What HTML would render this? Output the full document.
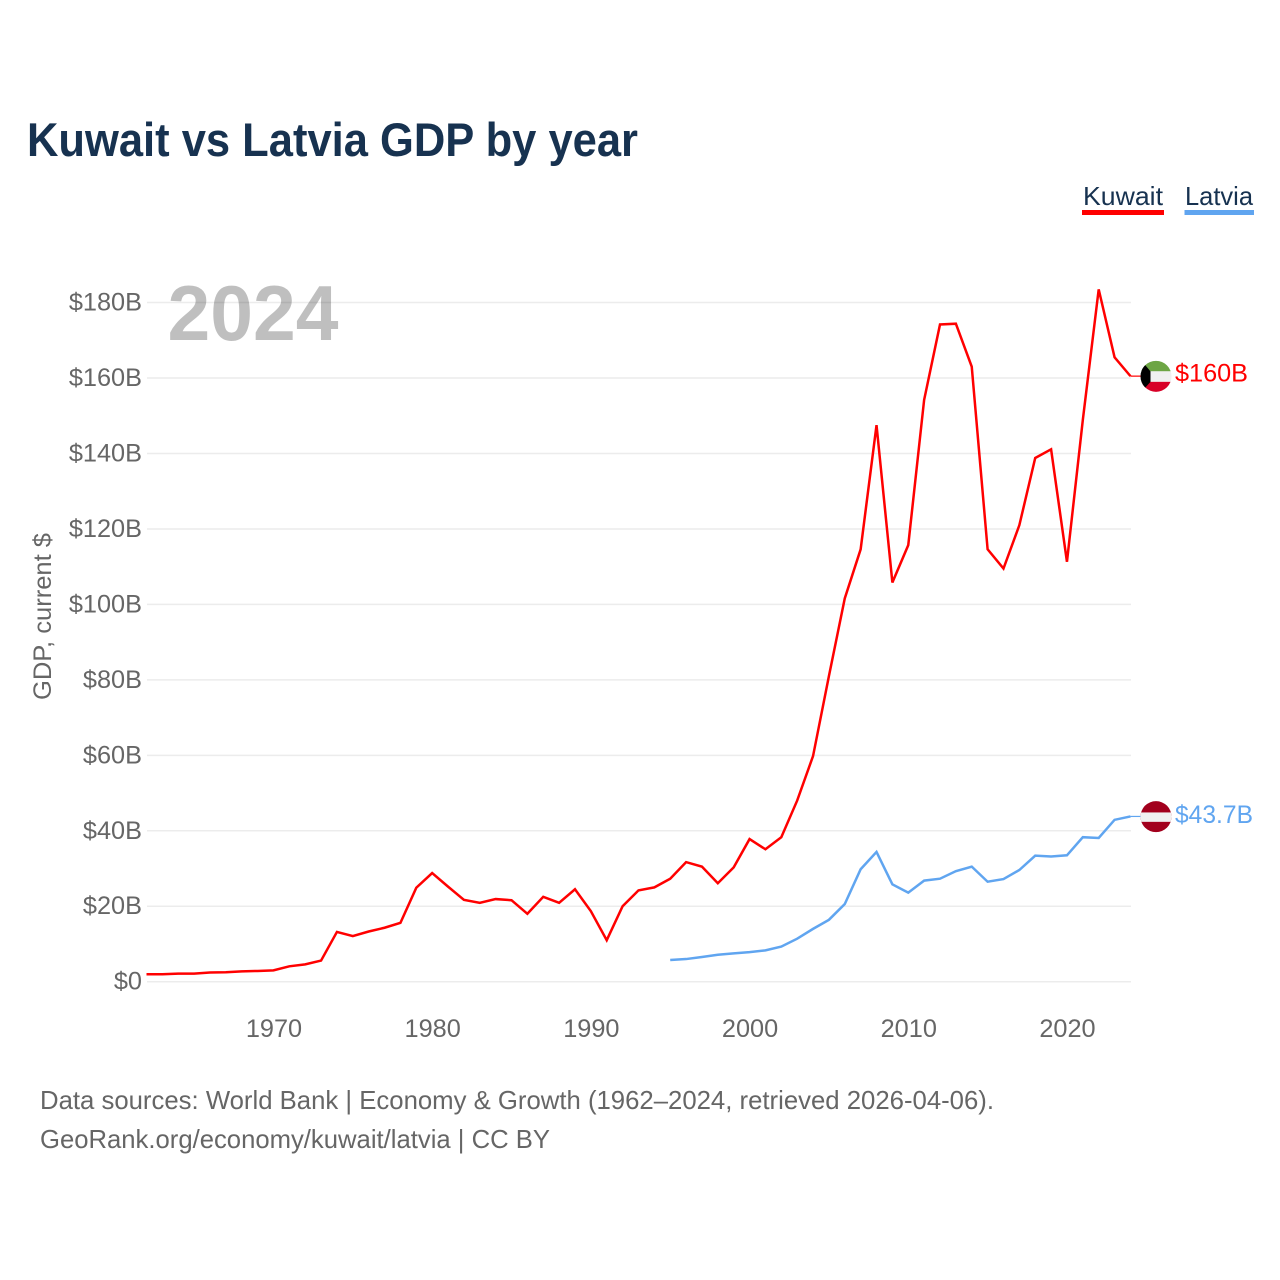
<!DOCTYPE html>
<html lang="en">
<head>
<meta charset="utf-8">
<title>Kuwait vs Latvia GDP by year</title>
<style>
html,body{margin:0;padding:0;background:#fff;}
svg{display:block;font-family:"Liberation Sans",sans-serif;}
</style>
</head>
<body>
<svg id="chart" xmlns="http://www.w3.org/2000/svg" width="1280" height="1280" viewBox="0 0 1280 1280">
  <defs>
    <clipPath id="flag-clip-kuwait"><circle cx="0" cy="0" r="15.5"></circle></clipPath>
    <clipPath id="flag-clip-latvia"><circle cx="0" cy="0" r="15.5"></circle></clipPath>
  </defs>
  <rect width="1280" height="1280" fill="#fff"></rect>
  <text x="27" y="156" font-size="47" font-weight="700" fill="#173250" textLength="611" lengthAdjust="spacingAndGlyphs">Kuwait vs Latvia GDP by year</text>

  <g>
    <g>
      <text x="1083" y="205" font-size="26" fill="#173250" textLength="80" lengthAdjust="spacingAndGlyphs">Kuwait</text>
      <rect x="1082" y="210" width="82" height="5" fill="#ff0000"></rect>
    </g>
    <g>
      <text x="1185" y="205" font-size="26" fill="#173250" textLength="68" lengthAdjust="spacingAndGlyphs">Latvia</text>
      <rect x="1184.5" y="210" width="69.5" height="5" fill="#60a5f0"></rect>
    </g>
  </g>

  <g id="grid"></g>
  <g id="y-ticks"></g>
  <g id="x-ticks"></g>

  <text x="167.5" y="340" font-size="78" font-weight="700" fill="#000000" fill-opacity="0.25" textLength="171" lengthAdjust="spacingAndGlyphs">2024</text>

  <text transform="translate(51 700) rotate(-90)" x="0" y="0" font-size="25" fill="#666666" textLength="167" lengthAdjust="spacingAndGlyphs">GDP, current $</text>

  <g id="series"></g>
  <g id="end-markers"></g>

  <text x="40" y="1109" font-size="26" fill="#666666" textLength="954" lengthAdjust="spacingAndGlyphs">Data sources: World Bank | Economy &amp; Growth (1962–2024, retrieved 2026-04-06).</text>
  <text x="40" y="1148" font-size="26" fill="#666666" textLength="510" lengthAdjust="spacingAndGlyphs">GeoRank.org/economy/kuwait/latvia | CC BY</text>
</svg>

<script>
var kuwaitStartYear = 1962;
var latviaStartYear = 1995;
var kuwaitValues = [1.96,1.98,2.15,2.15,2.45,2.5,2.75,2.85,3.0,4.08,4.6,5.6,13.2,12.1,13.3,14.3,15.6,24.9,28.8,25.2,21.7,20.9,21.9,21.6,18.0,22.5,20.9,24.5,18.7,11.0,20.0,24.2,25.0,27.3,31.7,30.5,26.1,30.3,37.8,35.1,38.3,48.0,59.8,81.0,101.6,114.6,147.5,105.8,115.7,154.2,174.2,174.4,163.0,114.6,109.5,121.0,138.8,141.1,111.3,148.9,183.5,165.5,160.5];
var latviaValues = [5.75,6.0,6.55,7.15,7.5,7.85,8.3,9.3,11.4,14.0,16.4,20.6,29.8,34.4,25.8,23.6,26.8,27.3,29.3,30.5,26.5,27.2,29.6,33.4,33.2,33.5,38.3,38.1,42.9,43.8];
var yTickValues = [0,20,40,60,80,100,120,140,160,180];
var yTickLabels = ["$0","$20B","$40B","$60B","$80B","$100B","$120B","$140B","$160B","$180B"];
var xTickYears = [1970,1980,1990,2000,2010,2020];
var kuwaitEndLabel = "$160B";
var latviaEndLabel = "$43.7B";

var SVG_NS = "http://www.w3.org/2000/svg";
function xScale(year){ return 146.5 + (year - 1962) * 15.87; }
function yScale(value){ return 981.7 - value * 3.773; }
function make(tag, attrs){
  var el = document.createElementNS(SVG_NS, tag);
  for (var k in attrs) { el.setAttribute(k, attrs[k]); }
  return el;
}

var grid = document.getElementById('grid');
var yTicks = document.getElementById('y-ticks');
yTickValues.forEach(function(v, i){
  var line = make('line', {x1:147, x2:1131, y1:yScale(v), y2:yScale(v), stroke:'#ececec', 'stroke-width':1.5});
  
  
  grid.appendChild(line);
  var label = make('text', {x:142, y:yScale(v) + 8, 'text-anchor':'end', 'font-size':25.3, fill:'#666666'});
  
  
  label.textContent = yTickLabels[i];
  yTicks.appendChild(label);
});

var xTicks = document.getElementById('x-ticks');
xTickYears.forEach(function(year){
  var label = make('text', {x:xScale(year) + 0.5, y:1037, 'text-anchor':'middle', 'font-size':25.3, fill:'#666666'});
  
  
  label.textContent = String(year);
  xTicks.appendChild(label);
});

function linePoints(values, startYear){
  return values.map(function(v, i){
    return xScale(startYear + i).toFixed(2) + ',' + yScale(v).toFixed(2);
  }).join(' ');
}

var seriesGroup = document.getElementById('series');

var kuwaitLine = make('polyline', {points:linePoints(kuwaitValues, kuwaitStartYear), fill:'none', stroke:'#ff0000', 'stroke-width':2.5, 'stroke-linejoin':'miter'});


seriesGroup.appendChild(kuwaitLine);

var latviaLine = make('polyline', {points:linePoints(latviaValues, latviaStartYear), fill:'none', stroke:'#60a5f0', 'stroke-width':2.5, 'stroke-linejoin':'miter'});


seriesGroup.appendChild(latviaLine);

var kuwaitLast = kuwaitValues[kuwaitValues.length - 1];
var latviaLast = latviaValues[latviaValues.length - 1];
var endYear = kuwaitStartYear + kuwaitValues.length - 1;
var markers = document.getElementById('end-markers');

function addShape(parent, tag, attrs){
  var el = make(tag, attrs);
  parent.appendChild(el);
  return el;
}

/* Kuwait end marker */
var kuwaitConnector = make('line', {x1:xScale(endYear), x2:1141, y1:yScale(kuwaitLast), y2:yScale(kuwaitLast), stroke:'#ff0000', 'stroke-width':1.2});


markers.appendChild(kuwaitConnector);

var kuwaitFlag = make('g', {transform:'translate(1156 ' + (yScale(kuwaitLast) + 0.2) + ')', 'clip-path':'url(#flag-clip-kuwait)'});


markers.appendChild(kuwaitFlag);
addShape(kuwaitFlag, 'rect', {x:-16, y:-16, width:32, height:11, fill:'#6da544'});
addShape(kuwaitFlag, 'rect', {x:-16, y:-5, width:32, height:10.5, fill:'#f0f0f0'});
addShape(kuwaitFlag, 'rect', {x:-16, y:5.5, width:32, height:11, fill:'#d80027'});
addShape(kuwaitFlag, 'polygon', {points:'-16,-16 -11,-11.5 -5.5,-5 -5.5,5.5 -11,11.5 -16,16', fill:'#000000'});

var kuwaitValueLabel = make('text', {x:1175, y:yScale(kuwaitLast) + 5.5, 'font-size':25.3, fill:'#ff0000', textLength:73, lengthAdjust:'spacingAndGlyphs'});


kuwaitValueLabel.textContent = kuwaitEndLabel;
markers.appendChild(kuwaitValueLabel);

/* Latvia end marker */
var latviaConnector = make('line', {x1:xScale(endYear), x2:1141, y1:yScale(latviaLast), y2:yScale(latviaLast), stroke:'#60a5f0', 'stroke-width':1.2});


markers.appendChild(latviaConnector);

var latviaFlag = make('g', {transform:'translate(1156 ' + (yScale(latviaLast) + 0.2) + ')', 'clip-path':'url(#flag-clip-latvia)'});


markers.appendChild(latviaFlag);
addShape(latviaFlag, 'rect', {x:-16, y:-16, width:32, height:32, fill:'#a2001d'});
addShape(latviaFlag, 'rect', {x:-16, y:-4.2, width:32, height:9.4, fill:'#f0f0f0'});

var latviaValueLabel = make('text', {x:1175, y:yScale(latviaLast) + 6.7, 'font-size':25.3, fill:'#60a5f0', textLength:78, lengthAdjust:'spacingAndGlyphs'});


latviaValueLabel.textContent = latviaEndLabel;
markers.appendChild(latviaValueLabel);
</script>
</body>
</html>
